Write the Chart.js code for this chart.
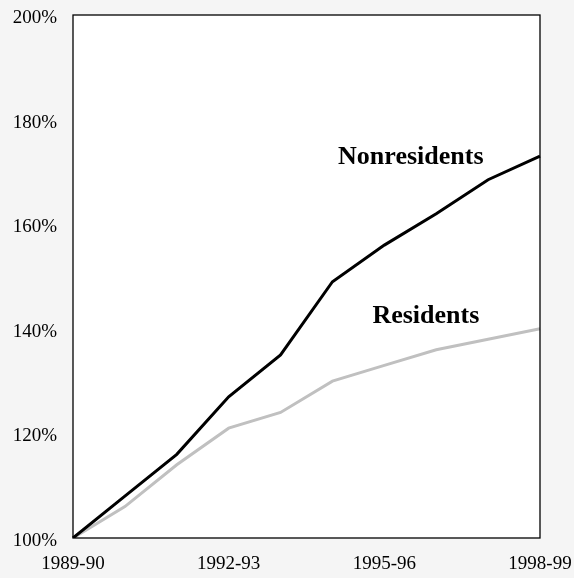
<!DOCTYPE html>
<html>
<head>
<meta charset="utf-8">
<script src="https://cdn.jsdelivr.net/npm/chart.js@4/dist/chart.umd.min.js"></script>
<style>
	html, body { margin: 0; padding: 0; background: #f5f5f5; }
	#wrap { width: 574px; height: 578px; }
</style>
</head>
<body>
<div id="wrap"><canvas id="myChart" width="574" height="578"></canvas></div>
<script>
let years = ['1989-90','1990-91','1991-92','1992-93','1993-94','1994-95','1995-96','1996-97','1997-98','1998-99']
let shownYears = ['1989-90','1992-93','1995-96','1998-99']
let nonresidents = [100,108,116,127,135,149,156,162,168.5,173]
let residents = [100,106,114,121,124,130,133,136,138,140]
let yTicks = [100,120,140,160,180,200]

// box + white plot area, and the two series names inside the plot
const plotBox = {
	id: 'plotBox',
	beforeDatasetsDraw(chart) {
		let a = chart.chartArea
		let ctx = chart.ctx
		ctx.save()
		ctx.fillStyle = '#ffffff'
		ctx.fillRect(a.left, a.top, a.right - a.left, a.bottom - a.top)
		ctx.restore()
	},
	afterDatasetsDraw(chart) {
		let a = chart.chartArea
		let ctx = chart.ctx
		let x = chart.scales.x
		let y = chart.scales.y
		ctx.save()
		ctx.strokeStyle = '#000'
		ctx.lineWidth = 1.3
		ctx.strokeRect(a.left, a.top, a.right - a.left, a.bottom - a.top)
		ctx.fillStyle = '#000'
		ctx.font = 'bold 26px "Liberation Serif"'
		ctx.textAlign = 'center'
		ctx.textBaseline = 'middle'
		ctx.fillText('Nonresidents', x.getPixelForValue(6.51), y.getPixelForValue(172.8))
		ctx.fillText('Residents', x.getPixelForValue(6.8), y.getPixelForValue(142.4))
		ctx.restore()
	}
}

new Chart('myChart', {
	type: 'line',
	data: {
		labels: years,
		datasets: [
			{
				label: 'Nonresidents',
				data: nonresidents,
				borderColor: '#000000',
				borderWidth: 3,
				pointRadius: 0,
				tension: 0
			},
			{
				label: 'Residents',
				data: residents,
				borderColor: '#c0c0c0',
				borderWidth: 3,
				pointRadius: 0,
				tension: 0
			}
		]
	},
	options: {
		responsive: false,
		animation: false,
		layout: { padding: { top: 15, right: 34, left: 0, bottom: 0 } },
		plugins: { legend: { display: false }, tooltip: { enabled: false } },
		scales: {
			x: {
				grid: { display: false, drawTicks: false },
				border: { display: false },
				afterFit(scale) {
					scale.height = 40
					scale.paddingLeft = 0
					scale.paddingRight = 0
				},
				ticks: {
					autoSkip: false,
					maxRotation: 0,
					padding: 15,
					color: '#000',
					font: { family: 'Liberation Serif', size: 19 },
					callback: function(v, i) {
						let lab = years[i]
						return shownYears.includes(lab) ? lab : ''
					}
				}
			},
			y: {
				min: 100,
				max: 200,
				grid: { display: false, drawTicks: false },
				border: { display: false },
				afterFit(scale) {
					scale.width = 73
					scale.paddingTop = 0
					scale.paddingBottom = 0
				},
				afterBuildTicks(scale) { scale.ticks = yTicks.map(v => ({ value: v })) },
				ticks: {
					padding: 16,
					labelOffset: 3,
					color: '#000',
					font: { family: 'Liberation Serif', size: 19 },
					callback: v => v + '%'
				}
			}
		}
	},
	plugins: [plotBox]
})
</script>
</body>
</html>
